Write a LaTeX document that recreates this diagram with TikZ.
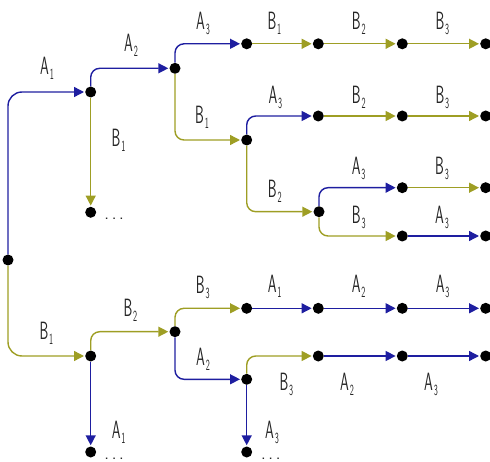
\documentclass[tikz,border=0pt]{standalone}
\usepackage{fontspec}
\usepackage{graphicx}
\usetikzlibrary{arrows.meta}
\definecolor{eblue}{RGB}{30,30,160}
\definecolor{eolive}{RGB}{158,158,36}
\newcommand\lbl[2]{\scalebox{0.56}[1]{#1\kern1.5pt\raisebox{-5pt}{\fontsize{15.5}{16}\selectfont #2}}}
\newcommand\threedots{.\kern2.7pt.\kern2.7pt.}
\begin{document}
\begin{tikzpicture}[x=1pt,y=-1pt,
  dot/.style={circle,fill=black,inner sep=0pt,minimum size=11pt},
  ebase/.style={line width=1.4pt,rounded corners=9pt,-{Triangle[length=10pt,width=10pt]},shorten >=1pt},
  ea/.style={ebase,draw=eblue},
  eb/.style={ebase,draw=eolive},
  rootedge/.style={rounded corners=14pt},
  lab/.style={font=\sffamily\fontsize{25}{27}\selectfont,text=black!85,inner sep=0pt,anchor=base west},
  ell/.style={font=\sffamily\fontsize{18}{20}\selectfont,text=black!85,inner sep=0pt,anchor=base west}]
\useasboundingbox (0,0) rectangle (490,462);
% nodes
\node[dot] (r) at (8,260) {};
\node[dot] (a1) at (90.7,92) {};
\node[dot] (a1b) at (90.7,212.3) {};
\node[dot] (a2) at (175,68.3) {};
\node[dot] (t1) at (246.7,43.8) {};
\node[dot] (t2) at (318.3,43.8) {};
\node[dot] (t3) at (402.3,43.8) {};
\node[dot] (t4) at (485.7,43.8) {};
\node[dot] (b1) at (246.7,140) {};
\node[dot] (u1) at (318.3,116) {};
\node[dot] (u2) at (402.3,116) {};
\node[dot] (u3) at (485.7,116) {};
\node[dot] (b2) at (319,211.7) {};
\node[dot] (v1) at (402.3,187.7) {};
\node[dot] (v2) at (485.7,187.7) {};
\node[dot] (w1) at (402.3,236) {};
\node[dot] (w2) at (485.7,236) {};
\node[dot] (lb1) at (90.7,356) {};
\node[dot] (lb1a) at (90.7,452) {};
\node[dot] (lb2) at (175,331.7) {};
\node[dot] (x1) at (246.7,308.3) {};
\node[dot] (x2) at (318.3,308.3) {};
\node[dot] (x3) at (402.3,308.3) {};
\node[dot] (x4) at (485.7,308.3) {};
\node[dot] (la2) at (246.7,379.3) {};
\node[dot] (y1) at (318.3,356) {};
\node[dot] (y2) at (402.3,356) {};
\node[dot] (y3) at (485.7,356) {};
\node[dot] (la3) at (246.7,452) {};
% edges
\draw[ea,rootedge] (r) |- (a1);
\draw[eb,rootedge] (r) |- (lb1);
\draw[eb] (a1) -- (a1b);
\draw[ea] (a1) |- (a2);
\draw[ea] (a2) |- (t1);
\draw[eb] (t1) -- (t2);
\draw[eb] (t2) -- (t3);
\draw[eb] (t3) -- (t4);
\draw[eb] (a2) |- (b1);
\draw[ea] (b1) |- (u1);
\draw[eb] (u1) -- (u2);
\draw[eb] (u2) -- (u3);
\draw[eb] (b1) |- (b2);
\draw[ea] (b2) |- (v1);
\draw[eb] (v1) -- (v2);
\draw[eb] (b2) |- (w1);
\draw[ea] (w1) -- (w2);
\draw[ea] (lb1) -- (lb1a);
\draw[eb] (lb1) |- (lb2);
\draw[eb] (lb2) |- (x1);
\draw[ea] (x1) -- (x2);
\draw[ea] (x2) -- (x3);
\draw[ea] (x3) -- (x4);
\draw[ea] (lb2) |- (la2);
\draw[eb] (la2) |- (y1);
\draw[ea] (y1) -- (y2);
\draw[ea] (y2) -- (y3);
\draw[ea] (la2) -- (la3);
% labels
\node[lab] (l1) at (40,75) {\lbl{A}{1}};
\node[lab] (l2) at (111.5,147) {\lbl{B}{1}};
\node[lab] (l3) at (124,52) {\lbl{A}{2}};
\node[lab] (l4) at (196,29.3) {\lbl{A}{3}};
\node[lab] (l5) at (195,123.3) {\lbl{B}{1}};
\node[lab] (l6) at (267.3,29.3) {\lbl{B}{1}};
\node[lab] (l7) at (351.7,29.3) {\lbl{B}{2}};
\node[lab] (l8) at (435.3,29.3) {\lbl{B}{3}};
\node[lab] (l9) at (268.3,103.3) {\lbl{A}{3}};
\node[lab] (l10) at (351.7,103.3) {\lbl{B}{2}};
\node[lab] (l11) at (435.3,103.3) {\lbl{B}{3}};
\node[lab] (l12) at (267.7,197.3) {\lbl{B}{2}};
\node[lab] (l13) at (351.7,175) {\lbl{A}{3}};
\node[lab] (l14) at (435,175) {\lbl{B}{3}};
\node[lab] (l15) at (351.7,223.3) {\lbl{B}{3}};
\node[lab] (l16) at (435,223.3) {\lbl{A}{3}};
\node[lab] (l17) at (39.3,340) {\lbl{B}{1}};
\node[lab] (l18) at (123.3,317) {\lbl{B}{2}};
\node[lab] (l19) at (195.7,294) {\lbl{B}{3}};
\node[lab] (l20) at (196,366) {\lbl{A}{2}};
\node[lab] (l21) at (267.7,293) {\lbl{A}{1}};
\node[lab] (l22) at (351.7,293) {\lbl{A}{2}};
\node[lab] (l23) at (435.7,293) {\lbl{A}{3}};
\node[lab] (l24) at (279.3,390) {\lbl{B}{3}};
\node[lab] (l25) at (340,390) {\lbl{A}{2}};
\node[lab] (l26) at (424,390) {\lbl{A}{3}};
\node[lab] (l27) at (111.7,438.5) {\lbl{A}{1}};
\node[lab] (l28) at (265,438.5) {\lbl{A}{3}};
\node[ell] (d1) at (104.2,219.5) {\threedots};
\node[ell] (d2) at (104.2,459.6) {\threedots};
\node[ell] (d3) at (260.8,459.6) {\threedots};
\end{tikzpicture}
\end{document}
